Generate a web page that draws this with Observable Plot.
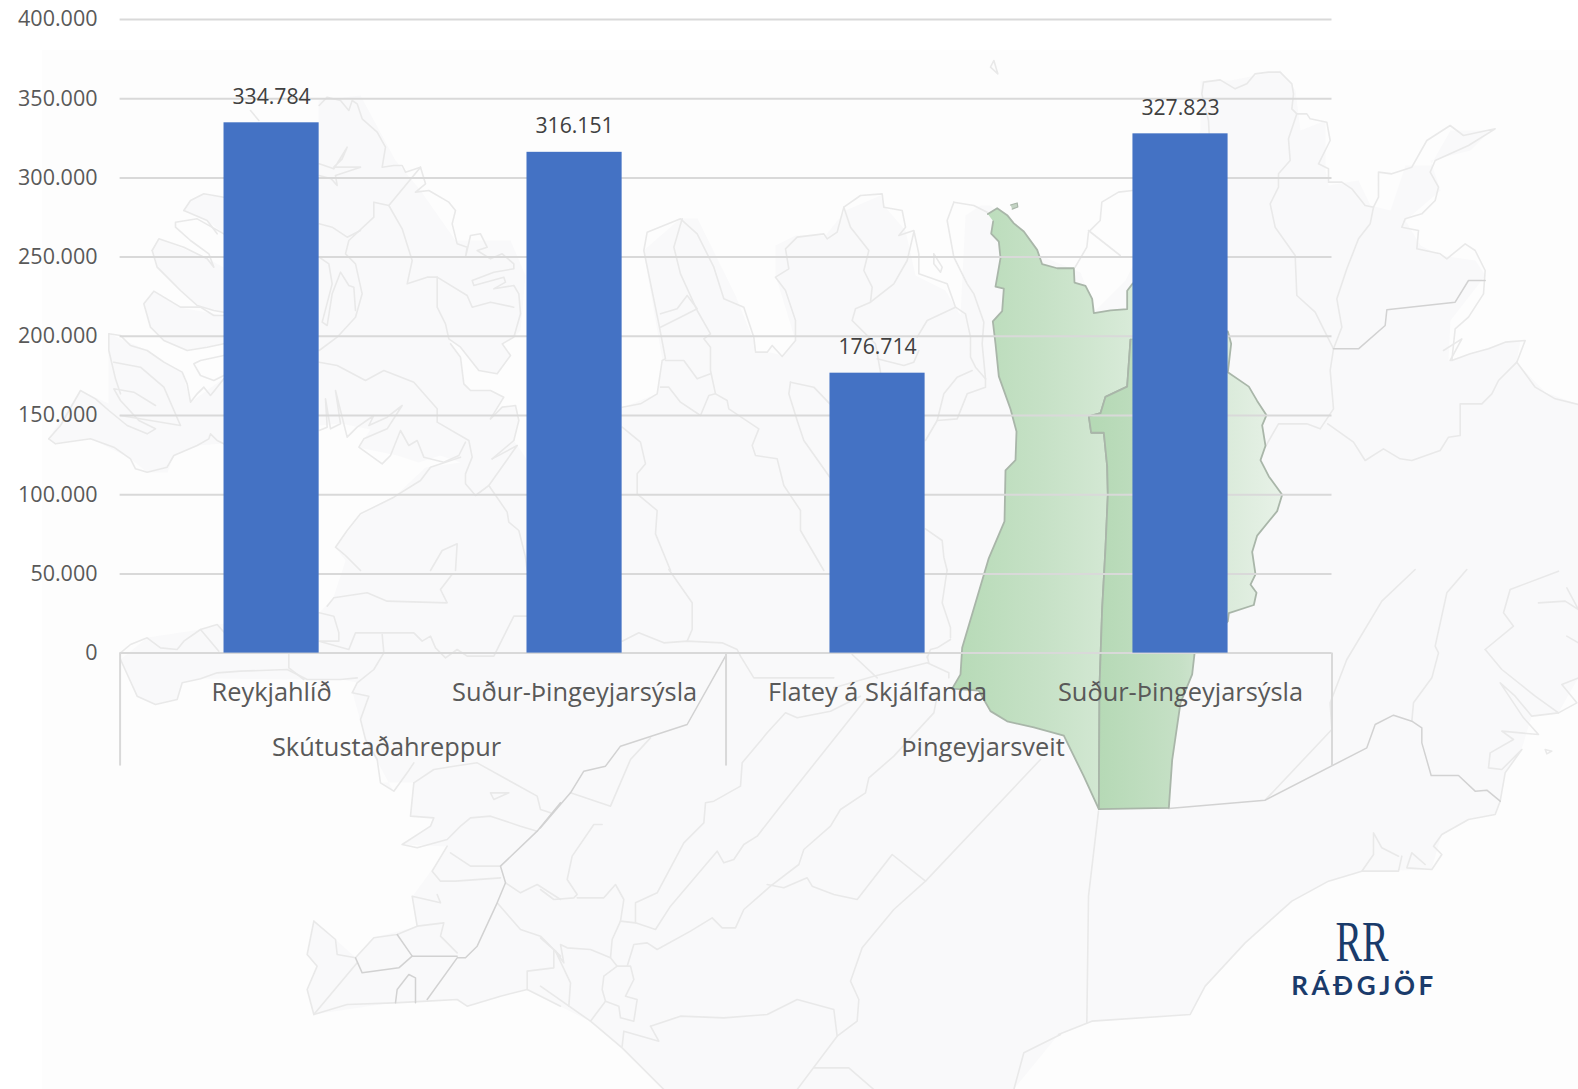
<!DOCTYPE html>
<html lang="is">
<head>
<meta charset="utf-8">
<title>Skútustaðahreppur og Þingeyjarsveit</title>
<script src="https://cdn.jsdelivr.net/npm/d3@7"></script>
<script src="https://cdn.jsdelivr.net/npm/@observablehq/plot@0.6"></script>
<style>
  html, body { margin: 0; padding: 0; background: #fff; }
  svg { display: block; }
  .logo-word text { letter-spacing: 3.6px; }
</style>
</head>
<body>
<div id="chart"></div>
<script>
// ---- chart values ----
const groups = ["Skútustaðahreppur", "Skútustaðahreppur", "Þingeyjarsveit", "Þingeyjarsveit"];
const places = ["Reykjahlíð", "Suður-Þingeyjarsýsla", "Flatey á Skjálfanda", "Suður-Þingeyjarsýsla"];
const values = [334784, 316151, 176714, 327823];
const yTicks = [0, 50000, 100000, 150000, 200000, 250000, 300000, 350000, 400000];
const groupLabels = ["Skútustaðahreppur", "Þingeyjarsveit"];
const logoMark = "RR";
const logoWord = "RÁÐGJÖF";

// ---- background map, traced outlines in picture units: [originX, originY, [x,y, x,y, ...] at 3×] ----
const landFillPx = [318,100,360,95,395,160,420,190,455,240,510,240,525,275,520,330,513,337,502,343,510,355,497,373,478,370,460,347,448,338,460,357,463,383,470,390,490,390,503,397,490,418,502,407,515,405,518,420,513,440,517,445,527,460,622,407,657,393,662,360,643,250,680,218,697,218,735,295,755,345,753,352,770,352,782,355,795,340,775,275,775,245,795,235,825,235,845,210,880,195,885,207,905,230,915,275,945,290,960,315,965,215,980,205,990,205,1025,240,1040,255,1080,272,1095,310,1125,280,1200,130,1200,80,1230,80,1280,70,1295,90,1300,130,1325,120,1325,170,1328,185,1358,180,1370,205,1390,210,1405,165,1430,165,1450,130,1490,130,1470,150,1430,160,1440,190,1405,220,1420,245,1440,255,1475,260,1485,275,1450,320,1448,360,1510,340,1520,340,1516,362,1545,392,1578,404,1578,677,1558,712,1531,716,1521,749,1505,772,1500,800,1495,814,1468,819,1441,834,1431,869,1361,871,1328,881,1291,901,1245,942,1205,986,1190,1014,1091,1021,1058,1034,1013,1089,663,1089,622,1047,590,1021,560,1006,527,989,500,996,467,1006,457,999,393,1002,313,1014,307,989,317,966,307,954,313,921,335,939,355,957,373,937,417,926,412,896,430,871,447,846,402,844,430,826,433,817,410,816,413,782,380,782,393,791,365,739,352,692,357,682,340,679,303,679,200,678,182,682,177,699,155,704,137,696,120,659,147,637,200,629,217,624,319,612,333,597,345,560,335,547,360,515,393,497,425,467,460,462,440,455,418,462,397,455,358,447,370,429,340,423,319,425,319,362];
const landLobesPx = [
  [48,438,80,390,108,403,108,333,147,350,182,372,190,402,223,378,223,443,197,445,173,455,167,472,147,472,130,458,90,438,55,443],
  [143,303,153,291,180,307,223,315,223,343,187,350,163,340,150,327],
  [152,250,158,238,207,258,223,267,223,312,197,305,157,267],
  [183,210,190,200,203,193,223,197,223,233,207,220]
];
const crop5 = [
  [25,1165,60,1125,120,1020,165,1045,205,1080,260,1125,320,1150,345,1135,295,1110,240,1050,220,1015,280,1025,345,1065],
  [205,850,240,855,270,885,320,900,370,935,425,965,440,1000,450,1055,470,1030,490,1010,510,1035,530,1010,550,985],
  [205,850,205,900,225,985,240,1030],
  [220,935,300,950,370,1010,420,1125,240,1095],
  [25,1165,45,1180,150,1165,220,1190,270,1225,285,1255,320,1265,380,1250,400,1215,470,1185,505,1165,510,1150,530,1170,550,1180],
  [550,795,520,795,480,770,420,770,340,722,310,760,330,830,370,870,440,900,500,890,550,880],
  [335,600,355,565,430,590,500,625,520,650,505,610,450,570,405,530,405,515,470,505,550,550],
  [335,600,350,650,420,720,470,765,520,780,550,785],
  [430,480,450,450,490,430,550,440],
  [430,480,500,510,530,550],
  [550,915,480,930,460,940,480,975,520,990,550,975],
  [630,180,655,210],
  [836,165,860,140,900,150,925,180,935,150,950,160,965,205,1010,245,1035,290,1025,350,1060,345,1085,345,1095,365,1140,350,1155,400,1125,425,1165,420,1225,455,1245,480,1235,520,1250,580,1280,590,1275,620,1290,555,1320,550,1340,590,1310,600,1350,625,1385,610,1420,640,1420,655,1360,665,1295,690,1300,705,1390,680,1395,695,1360,715,1420,705,1435,730,1440,790,1420,860,1385,880,1410,915,1370,970,1315,960,1260,890,1225,865,1215,820,1190,770,1190,680,1160,680,1100,700,1115,630,1085,535,1045,465,1000,455,1000,500,925,570,915,610,945,640,965,730,945,800,890,860,836,900],
  [1045,465,1140,350],
  [1190,680,1280,735,1295,770,1350,755,1420,770],
  [836,340,880,355,920,290,905,325,880,350,960,350,885,375,890,405,872,385,836,375],
  [836,520,875,530,920,560,960,540],
  [836,620,865,640,875,700,845,815,860,825,875,730,900,665,925,705,940,710,945,780],
  [836,935,890,945,975,990,1030,960,1120,995,1190,1075,1190,1115,1285,1170,1295,1220,1275,1270,1275,1300,1305,1335,1345,1305,1430,1185,1355,1225],
  [1345,1305,1400,1385,1405,1415,1435,1440,1455,1520,1460,1560],
  [1275,1175,1255,1215,1210,1235,1150,1220,1130,1170,1105,1185,1080,1140,1050,1215,1025,1240,955,1190,970,1165,1040,1135,1085,1065,1040,1100,985,1125,1000,1095,950,1130,920,1160,885,1020,900,1120,870,1135,855,1045,860,1130,836,1140],
  [1260,1220,1170,1250,1140,1290,1060,1340,960,1390,920,1440,885,1490,915,1515,960,1560],
  [1350,1105,1385,1070,1425,1065,1435,1110,1420,1170,1355,1225],
  [1230,880,1260,920,1270,1000,1290,1020,1350,1020,1390,1040,1350,1105],
  [1170,1560,1205,1500,1250,1480,1245,1560]
];
const crop8 = [
  [240,250,270,225,320,205,360,235,410,240,430,215,480,180,530,165,552,190],
  [480,180,535,245],
  [240,270,290,380,345,405,410,390,425,340,480,328,530,310,600,305,740,300,800,330,900,330,950,325],
  [745,255,745,295,790,330],
  [1025,195,1030,250,1000,300,950,340,935,370,985,380,960,450,975,510,1010,570,1020,640,1060,665,1100,610,1120,580],
  [836,130,880,140,895,190,895,215,836,215,925,240,935,215,945,190,1030,190,1120,190,1145,215,1170,200,1185,235,1215,265,1250,240,1280,260,1360,260,1390,200,1420,140,1460,140],
  [860,110,880,85,980,70,1040,95,1220,100,1200,60,1235,14],
  [1120,640,1180,600,1240,590,1310,580,1400,630,1490,680,1500,720,1530,730],
  [1350,670,1405,670,1360,690,1350,670],
  [1120,640,1110,740,1180,745,1170,770,1085,825,1130,835,1220,810,1260,770,1290,745,1350,740,1440,770,1490,785],
  [1220,830,1175,905,1200,935,1245,935,1380,925],
  [1380,890,1290,890,1230,850],
  [1370,1000,1440,1080,1500,1100,1540,1140,1560,1160],
  [1395,940,1440,970,1490,945,1560,990],
  [820,1055,885,1110,890,1155,945,1165,1000,1105,1070,1095,1130,1070,1115,980,1200,1000,1190,975],
  [820,1055,800,1155,830,1190,800,1260,820,1335,950,1180],
  [820,1335,920,1305,1060,1300,1160,1295,1250,1290,1280,1310,1380,1280,1460,1260,1520,1290,1560,1310],
  [1130,1070,1210,1060,1200,1100,1250,1150],
  [1460,1260,1460,1205,1540,1195,1540,1140]
];
const crop8Strong = [
  [1560,700,1490,785,1380,890,1395,940,1370,1000,1310,1130,1275,1165,1250,1165,1160,1290],
  [1070,1095,1115,1160,1250,1160],
  [945,1165,965,1210,1075,1195,1115,1160],
  [1065,1300,1070,1260,1105,1215,1125,1225,1125,1300]
];
const crop6 = [
  [1350,50,1360,30,1372,70,1350,50],
  [245,1070,300,1060,350,1030,365,930,375,925,355,820,310,600,320,545,420,505,470,550,520,650,550,745,610,770,640,860,645,905,680,905,695,885,725,918,765,870,765,810,735,720,705,680,745,655,735,595,770,560,850,550,860,565,890,545,910,470,960,435,1025,430,1030,470,1085,480,1095,530,1075,555,1120,540,1135,610,1135,670,1220,700,1245,770,1275,790,1290,860,1290,920,1305,950,1335,985],
  [1240,455,1220,510,1240,620,1280,700,1300,730,1330,815,1325,880,1335,985],
  [1240,455,1300,465,1340,485],
  [1180,610,1205,650,1200,665,1180,640,1180,610],
  [910,470,930,530,985,600,970,660,995,710,990,755,945,775,935,810,1005,880,1020,965],
  [990,755,1060,700,1100,630,1120,545],
  [1130,860,1160,810,1245,770],
  [1135,900,1120,935,1090,945,1010,925],
  [425,505,400,590,420,670,470,780,510,850,490,865,510,890,510,960,525,1030,560,1050,565,1075,655,1135,635,1185,645,1215,710,1225,730,1305,780,1380,780,1440,850,1560],
  [525,1030,505,1035,480,1095,420,1055,385,1010,360,1010],
  [360,790,410,775,440,735,470,775,420,800,360,830],
  [375,930,430,930,470,985,510,970],
  [750,995,745,1030,770,1110,790,1170,868,1280],
  [750,995,820,1010,868,1060],
  [1155,1170,1190,1110,1250,1105,1280,1030,1335,1010,1335,985],
  [1190,1110,1210,1030,1250,980,1295,960],
  [245,1130,300,1175,315,1240,290,1270,290,1330,350,1380,345,1450,390,1560],
  [1155,1435,1205,1470,1210,1520,1220,1560]
];
const crop7 = [
  [222,420,180,425,130,455,125,510,90,545,85,590,50,650],
  [90,540,185,615],
  [452,248,450,210,430,130,435,95,485,88,530,115,565,100,590,70,630,65,665,65,700,100,705,130,700,175,715,190,745,190,755,205,805,215,815,270,780,340,810,355,810,395,850,395,880,415,920,465,945,470,960,440,960,365,1000,370,1060,350,1105,270,1175,225,1215,255,1310,235,1230,285,1130,330,1115,365,1140,410,1130,450,1090,490,1040,505,1030,530,1080,540,1075,595,1145,610,1165,625,1220,580,1250,600,1280,660,1275,730,1230,800,1190,835,1180,930,1235,910,1290,895,1340,875,1400,870,1375,935,1320,990,1300,1030,1270,1060,1205,1060,1205,1155,1170,1160,1145,1200,1060,1230,1025,1225,975,1195,920,1230,885,1175,808,1120],
  [1375,935,1430,1010,1490,1045,1560,1062],
  [715,190,690,265,695,330,660,370,660,410,635,460,650,530,710,615,715,735,770,785,825,895,815,960,825,1075,785,1135,745,1120,660,1120,620,1190],
  [945,470,935,520,900,565,865,655,835,745,850,830,825,895],
  [1155,900,1210,865,1175,930]
];
const crop7Strong = [
  [825,895,900,895,980,825,985,778,1190,755,1230,690,1280,690]
];
const crop9 = [
  [245,215,295,190,370,220,440,215,545,220,590,240,600,260,640,325,880,325],
  [880,355,1000,320,1160,280,1225,310,1225,325],
  [1160,260,1165,280],
  [1230,210,1190,235,1170,240,1160,265],
  [1220,0,1205,100,1230,175,1230,205],
  [935,255,1010,325],
  [385,0,455,100,455,180,440,215],
  [330,505,270,570,210,710,90,670],
  [185,765,160,765,95,860,80,930,110,975,100,985,40,990,0,960],
  [110,985,190,985,225,945,250,990,240,1055,215,1110,210,1165,230,1190,270,1190,280,1230,255,1280,290,1290,280,1355,240,1345,235,1310,195,1295,150,1355,0,1250],
  [230,1190,190,1220,185,1260,195,1295],
  [210,1165,150,1140,80,1135,60,1125,70,1180,45,1145,0,1105],
  [45,1145,90,1240,85,1310],
  [260,1190,280,1125,320,1120,350,1140,450,1085,515,1045,545,1075,585,1075,610,1020,690,950,775,885,790,840,870,770,900,720,975,670,985,625,1060,560,1180,430,1190,380],
  [240,1055,285,1060,345,1080,390,1010,530,845,550,880,580,870,610,825,650,800,720,710,975,390],
  [285,1060,285,1000,350,970,430,820,490,760,495,700,520,695,600,650,605,580,680,490,735,430,770,445,870,425,960,380],
  [680,945,730,955,800,925,815,950,880,975,950,990,1055,855,1155,935],
  [1500,570,1155,935,1060,1020,965,1135,930,1235,955,1290,950,1355,890,1400,770,1560],
  [330,1370,420,1340,550,1345,680,1335,770,1290,880,1320,890,1400],
  [330,1370,355,1415,250,1385,245,1430],
  [150,1355,245,1435,370,1560],
  [820,1495,925,1495,1000,1560],
  [1420,1560,1450,1450,1560,1395]
];
const crop9Strong = [
  [555,260,440,465,240,530,195,590,130,605,90,670,0,775]
];
const crop10 = [
  [620,692,820,480,815,400,865,270,970,95,1070,0],
  [1060,455,1065,400,1120,325,1140,250,1130,230,1165,70,1225,0],
  [1325,695,1310,735,1230,750,1150,795,1125,830,1150,855,1120,900,1045,895,1060,850,1100,885],
  [1030,860,1020,905,910,905,945,855,945,790,970,835,1020,860],
  [910,905,810,935,700,995,560,1120,440,1250,395,1335,100,1355,0,1395],
  [1325,695,1340,610,1390,540,1330,600,1290,595,1295,550,1365,510,1330,485,1440,495,1395,445,1325,340,1370,380,1420,440,1500,430,1555,400,1510,345,1560,325],
  [1280,240,1365,170,1335,130,1355,60,1500,5],
  [1280,240,1330,300,1430,380,1500,430],
  [120,725,90,980,85,1360],
  [1440,100,1520,95,1560,120,1525,55],
  [1525,200,1560,220],
  [1460,540,1480,545,1465,553,1460,540]
];
const crop10Strong = [
  [330,717,620,692,925,535,950,465,1005,437,1060,455,1090,475,1090,520,1118,618,1200,618,1250,665,1285,662,1325,695]
];
// green municipalities (crop origin 900,180; 3× across, 2.45× down)
const greenWest = [262,82,290,68,320,85,340,105,370,125,410,170,425,205,470,215,520,215,522,250,555,258,575,290,580,325,630,318,680,315,680,270,697,252,760,250,760,388,690,390,680,505,615,530,600,570,565,578,572,618,610,618,620,700,622,770,615,900,605,1050,597,1240,595,1540,550,1460,490,1360,400,1340,320,1325,270,1300,235,1250,155,1245,180,1210,185,1145,265,925,312,835,315,710,345,685,348,615,330,560,295,480,285,400,277,345,305,320,310,265,285,260,300,190,295,150,272,130,278,100];
const greenEast = [690,390,680,505,615,530,600,570,565,578,572,618,610,618,620,700,622,770,615,900,605,1050,597,1240,595,1540,805,1537,815,1420,840,1280,875,1210,882,1160,982,1080,985,1060,1060,1040,1068,1010,1050,990,1065,965,1055,910,1070,870,1130,810,1145,770,1105,725,1080,685,1095,650,1085,600,1098,575,1070,540,1045,505,982,470,992,400,982,370,800,380];
const greenIslet = [330,60,350,55,352,65,335,70];

// ---- helpers that only build tables for the library ----
const unpack = (ox, oy, flat, id, sy = 3) => d3.range(0, flat.length, 2).map(i => ({mx: ox + flat[i] / 3, my: oy + flat[i + 1] / sy, id}));
let idCounter = 0;
const table = (ox, oy, lines) => lines.flatMap(l => unpack(ox, oy, l, idCounter++));
const pxTable = flat => unpack(0, 0, flat.map(v => v * 3), idCounter++);

const faint = [
  ...table(40, 50, crop5), ...table(40, 569, crop8), ...table(540, 50, crop6),
  ...table(1058, 50, crop7), ...table(540, 569, crop9), ...table(1058, 569, crop10)
];
const strong = [
  ...table(40, 569, crop8Strong), ...table(1058, 50, crop7Strong),
  ...table(540, 569, crop9Strong), ...table(1058, 569, crop10Strong)
];
const land = [landFillPx, ...landLobesPx].flatMap(pxTable);

const gradientDefs = () => {
  const defs = d3.create("svg:defs");
  const add = (id, x1, x2, stops) => {
    const g = defs.append("linearGradient").attr("id", id).attr("gradientUnits", "userSpaceOnUse")
      .attr("x1", x1).attr("x2", x2).attr("y1", 0).attr("y2", 0);
    stops.forEach(([o, c]) => g.append("stop").attr("offset", o).attr("stop-color", c));
  };
  add("greenW", 950, 1135, [[0, "#b6dab6"], [0.5, "#c6e1c6"], [1, "#d9ebd9"]]);
  add("greenE", 1095, 1285, [[0, "#b5d9b5"], [0.45, "#c6e0c6"], [0.7, "#dbebdb"], [1, "#e8f2e8"]]);
  return defs.node();
};

const mapLayer = Plot.plot({
  width: 1578, height: 1089, margin: 0,
  style: {background: "transparent", overflow: "visible"},
  x: {domain: [0, 1578], axis: null},
  y: {domain: [1089, 0], axis: null},
  marks: [
    gradientDefs,
    Plot.rect([{}], {x1: () => 42, x2: () => 1578, y1: () => 50, y2: () => 1089, fill: "#fdfdfd"}),
    Plot.line(land, {x: "mx", y: "my", z: "id", fill: "#f9f9fa", stroke: "none"}),
    Plot.line(faint, {x: "mx", y: "my", z: "id", stroke: "#e9e9e9", strokeWidth: 1.6, strokeLinejoin: "round"}),
    Plot.line(strong, {x: "mx", y: "my", z: "id", stroke: "#d2d2d2", strokeWidth: 1.5}),
    Plot.line(unpack(900, 180, greenWest, "w", 2.45), {x: "mx", y: "my", fill: "url(#greenW)", stroke: "#a9b6a9", strokeWidth: 1.8}),
    Plot.line(unpack(900, 180, greenEast, "e", 2.45), {x: "mx", y: "my", fill: "url(#greenE)", stroke: "#a9b6a9", strokeWidth: 1.8}),
    Plot.line(unpack(900, 180, greenIslet, "i", 2.45), {x: "mx", y: "my", fill: "#c4d4c4", stroke: "#a9b6a9", strokeWidth: 1.2}),
    Plot.text([logoMark], {x: () => 1361.6, y: () => 960.5, text: d => d, lineAnchor: "bottom", fontFamily: "Liberation Serif", fontSize: 57, fill: "#1a3b6b", className: "logo-rr"}),
    Plot.text([logoWord], {x: () => 1363.5, y: () => 994, text: d => d, lineAnchor: "bottom", fontFamily: "Lato", fontWeight: 700, fontSize: 26, fill: "#1a3b6b", className: "logo-word"})
  ]
});
d3.select(mapLayer).selectAll(".logo-rr text").attr("textLength", 53).attr("lengthAdjust", "spacingAndGlyphs");

// ---- the chart ----
const keys = places.map((p, i) => `${i}|${p}`);
const rows = keys.map((k, i) => ({key: k, place: places[i], group: groups[i], value: values[i]}));
const locale = d3.formatLocale({decimal: ",", thousands: ".", grouping: [3]});
const fmt = locale.format(",d");
const halfBand = 151.5;

const chart = Plot.plot({
  width: 1578, height: 1089,
  marginLeft: 119.6, marginRight: 246.5, marginTop: 19, marginBottom: 436.4,
  style: {fontFamily: "'Open Sans', sans-serif", background: "transparent", overflow: "visible"},
  x: {type: "band", domain: keys, paddingInner: 0.686, paddingOuter: 0.343, round: false, label: null},
  y: {domain: [0, 400000], label: null},
  marks: [
    () => mapLayer,
    Plot.ruleY(yTicks, {stroke: "#d9d9d9", strokeWidth: 2}),
    Plot.ruleX([keys[0], keys[2]], {x: d => d, dx: -halfBand, y1: 0, y2: -71300, stroke: "#d9d9d9", strokeWidth: 2}),
    Plot.ruleX([keys[3]], {x: d => d, dx: halfBand, y1: 0, y2: -71300, stroke: "#d9d9d9", strokeWidth: 2}),
    Plot.barY(rows, {x: "key", y: "value", fill: "#4472c4"}),
    Plot.text(rows, {x: "key", y: "value", text: d => fmt(d.value), lineAnchor: "bottom", dy: -19, fontSize: 21.2, fill: "#404040"}),
    Plot.axisY({ticks: yTicks, tickFormat: d => fmt(d), tickSize: 0, tickPadding: 22.6, label: null, fontSize: 21.5, color: "#595959"}),
    Plot.axisX({tickSize: 0, tickPadding: 29.5, label: null, tickFormat: k => k.split("|")[1], fontSize: 25.4, color: "#595959"}),
    Plot.text([groupLabels[0]], {x: () => keys[0], y: () => 0, text: d => d, dx: 115, dy: 103, lineAnchor: "bottom", fontSize: 25.4, fill: "#595959"}),
    Plot.text([groupLabels[1]], {x: () => keys[2], y: () => 0, text: d => d, dx: 105.5, dy: 103, lineAnchor: "bottom", fontSize: 25.4, fill: "#595959"})
  ]
});
document.getElementById("chart").append(chart);
</script>
</body>
</html>
